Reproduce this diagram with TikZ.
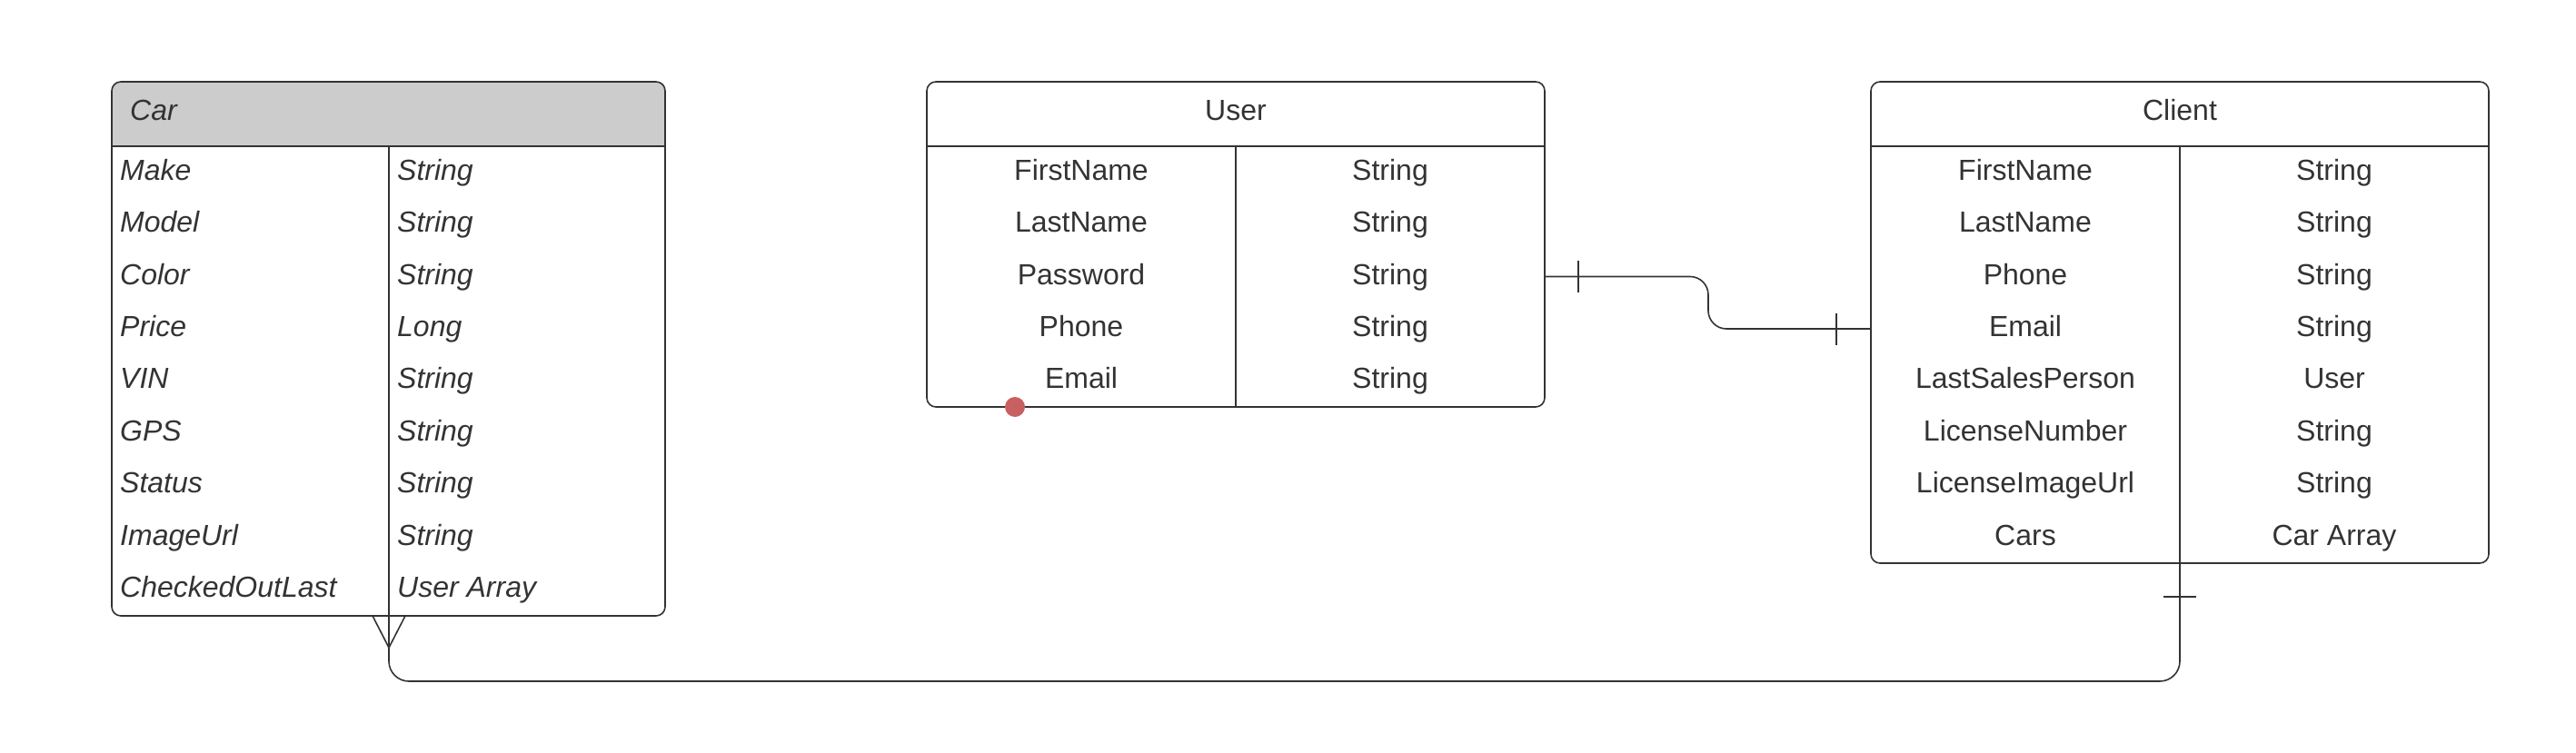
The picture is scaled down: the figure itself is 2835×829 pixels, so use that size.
\documentclass[tikz,border=0pt]{standalone}
\usepackage{fontspec}
\setmainfont{Liberation Sans}
\definecolor{lc}{HTML}{333333}
\definecolor{tc}{HTML}{333333}
\definecolor{hdr}{HTML}{CCCCCC}
\definecolor{dotc}{RGB}{200,96,98}
\begin{document}
\begin{tikzpicture}[x=1pt,y=-1pt,
  ln/.style={draw=lc, line width=1.6pt},
  tbl/.style={ln, rounded corners=10pt, inner sep=0pt, outer sep=0pt, anchor=north west},
  txt/.style={text=tc, font=\fontsize{32}{38}\selectfont, inner sep=0pt, anchor=base},
  itxt/.style={txt, font=\fontsize{32}{38}\selectfont\itshape, anchor=base west},
  conn/.style={ln, line cap=round}]
\useasboundingbox (0,0) rectangle (2835,829);

% ---------- Car ----------
\begin{scope}
  \clip[rounded corners=10pt] (123,90) rectangle (732,678);
  \fill[hdr] (123,90) rectangle (732,161);
\end{scope}
\node[tbl, minimum width=609pt, minimum height=588pt] (car) at (123,90) {};
\draw[ln] (123,161) -- (732,161);
\draw[ln] (428,161) -- (428,678);
\node[itxt] (carh) at (143,133) {Car};
\foreach \nm/\ty [count=\i] in {Make/String, Model/String, Color/String, Price/Long, VIN/String, GPS/String, Status/String, ImageUrl/String, CheckedOutLast/User Array}{
  \node[itxt] (carn\i) at (132,{161+(\i-0.5)*57.4+8.5}) {\nm};
  \node[itxt] (cart\i) at (437,{161+(\i-0.5)*57.4+8.5}) {\ty};
}

% ---------- User ----------
\node[tbl, minimum width=680pt, minimum height=358pt] (user) at (1020,90) {};
\draw[ln] (1020,161) -- (1700,161);
\draw[ln] (1360,161) -- (1360,448);
\node[txt] (userh) at (1360,133) {User};
\foreach \nm [count=\i] in {FirstName, LastName, Password, Phone, Email}{
  \node[txt] (usern\i) at (1190,{161+(\i-0.5)*57.4+8.5}) {\nm};
  \node[txt] (usert\i) at (1530,{161+(\i-0.5)*57.4+8.5}) {String};
}
\node[circle, fill=dotc, minimum size=22pt, inner sep=0pt] (dot) at (1117,448) {};

% ---------- Client ----------
\node[tbl, minimum width=680pt, minimum height=530pt] (client) at (2059,90) {};
\draw[ln] (2059,161) -- (2739,161);
\draw[ln] (2399,161) -- (2399,620);
\node[txt] (clienth) at (2399,133) {Client};
\foreach \nm/\ty [count=\i] in {FirstName/String, LastName/String, Phone/String, Email/String, LastSalesPerson/User, LicenseNumber/String, LicenseImageUrl/String, Cars/Car Array}{
  \node[txt] (clientn\i) at (2229,{161+(\i-0.5)*57.4+8.5}) {\nm};
  \node[txt] (clientt\i) at (2569,{161+(\i-0.5)*57.4+8.5}) {\ty};
}

% ---------- connectors ----------
\coordinate (c1a) at (1700,304.5);
\coordinate (c1b) at (2059,362);
\draw[ln, rounded corners=20pt] (c1a) -- (1880,304.5) -- (1880,362) -- (c1b);
\draw[ln] (1737,287) -- (1737,322);
\draw[ln] (2021,344.5) -- (2021,379.5);

\coordinate (c2a) at (428,678);
\coordinate (c2b) at (2399,620);
\draw[ln, rounded corners=22pt] (c2a) -- (428,750) -- (2399,750) -- (c2b);
\draw[ln] (410,678) -- (428,713) -- (446,678);
\draw[ln] (2381,657) -- (2417,657);
\end{tikzpicture}
\end{document}
